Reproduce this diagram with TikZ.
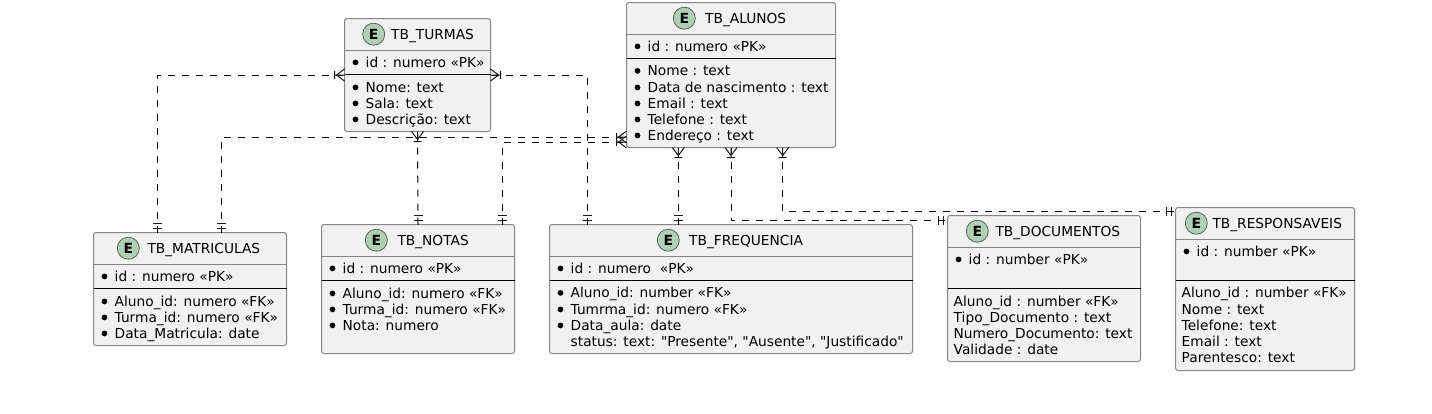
\documentclass[tikz,border=0pt]{standalone}
\usepackage{fontspec}
\newfontfamily\labelfont{DejaVu Sans}
\definecolor{boxfill}{HTML}{F1F1F1}
\definecolor{boxline}{HTML}{858585}
\definecolor{ink}{HTML}{181818}
\definecolor{iconfill}{HTML}{ADD1B2}
\tikzset{
  entityframe/.style={draw=boxline,fill=boxfill,line width=1pt,rounded corners=2.5pt,inner sep=0pt,outer sep=0pt,anchor=north west},
  headrule/.style={draw=boxline,line width=1pt},
  bodyrule/.style={draw=black,line width=1pt},
  iconmark/.style={circle,draw=ink!70,fill=iconfill,line width=.8pt,minimum size=22pt,inner sep=0pt,font=\labelfont\fontsize{14}{14}\selectfont\bfseries},
  labeltext/.style={anchor=base west,inner sep=0pt,font=\labelfont\fontsize{13.75}{14}\selectfont,text=black},
  relation/.style={draw=black,line width=1pt,dash pattern=on 7pt off 7pt},
  tipline/.style={draw=ink,line width=1pt},
  crowtip/.pic={\draw[tipline] (0,-6)--(8,0)--(0,6) (0,0)--(10,0) (10,-4)--(10,4);},
  onebars/.pic={\draw[tipline] (4.5,-4.5)--(4.5,4.5) (9.5,-4.5)--(9.5,4.5);}
}
% name, left, top, right, bottom, body rule y, icon x, title x, title
\newcommand\entitybox[9]{%
  \node[entityframe,minimum width={(#4-#2)*1pt},minimum height={(#5-#3)*1pt}] (#1) at (#2,#3) {};
  \draw[headrule] (#2,#3+32)--(#4,#3+32);
  \draw[bodyrule] (#2,#6)--(#4,#6);
  \node[iconmark] (#1-icon) at (#7,#3+15.7) {E};
  \node[labeltext] (#1-title) at (#8,#3+20.7) {#9};
}
% name, left, list of baseline/text
\newcommand\bulletrows[3]{%
  \foreach \rowy/\rowtxt [count=\i] in {#3}{
    \fill[black] (#2+11,\rowy-4.6) circle (2.9pt);
    \node[labeltext] (#1-b\i) at (#2+21,\rowy) {\rowtxt};
  }
}
\newcommand\plainrows[3]{%
  \foreach \rowy/\rowtxt [count=\i] in {#3}{
    \node[labeltext] (#1-p\i) at (#2+6,\rowy) {\rowtxt};
  }
}
\begin{document}
\begin{tikzpicture}[x=1pt,y=-1pt]
\useasboundingbox (0,0) rectangle (1432,413);
\fill[white] (0,0) rectangle (1432,413);

\entitybox{turmas}{344.5}{18.5}{490.5}{131.5}{74.5}{373.7}{391}{TB\_TURMAS}
\bulletrows{turmas}{344.5}{67/{id : numero «PK»},92/{Nome: text},108/{Sala: text},124/{Descrição: text}}

\entitybox{alunos}{626.5}{2.5}{835.5}{147.5}{58.5}{684.3}{705}{TB\_ALUNOS}
\bulletrows{alunos}{626.5}{51/{id : numero «PK»},75.5/{Nome : text},92/{Data de nascimento : text},108/{Email : text},124/{Telefone : text},140/{Endereço : text}}

\entitybox{matriculas}{93.5}{232.5}{286.5}{345.5}{288.5}{128.3}{147.3}{TB\_MATRICULAS}
\bulletrows{matriculas}{93.5}{281/{id : numero «PK»},306/{Aluno\_id: numero «FK»},322/{Turma\_id: numero «FK»},338/{Data\_Matricula: date}}

\entitybox{notas}{321.5}{224.5}{514.5}{353.5}{280.5}{376.3}{397.3}{TB\_NOTAS}
\bulletrows{notas}{321.5}{273/{id : numero «PK»},298/{Aluno\_id: numero «FK»},314/{Turma\_id: numero «FK»},330/{Nota: numero}}

\entitybox{frequencia}{549.5}{224.5}{912.5}{353.5}{280.5}{668.3}{689}{TB\_FREQUENCIA}
\bulletrows{frequencia}{549.5}{273/{id : numero\ \ «PK»},297.5/{Aluno\_id: number «FK»},314/{Tumrma\_id: numero «FK»},330/{Data\_aula: date}}
\node[labeltext] (frequencia-status) at (570.5,346) {status: text: "Presente", "Ausente", "Justificado"};

\entitybox{documentos}{947.5}{215.5}{1140.5}{361.5}{288.5}{977.3}{995.3}{TB\_DOCUMENTOS}
\bulletrows{documentos}{947.5}{264/{id : number «PK»}}
\plainrows{documentos}{947.5}{306/{Aluno\_id : number «FK»},322/{Tipo\_Documento : text},338/{Numero\_Documento: text},354/{Validade : date}}

\entitybox{responsaveis}{1175.5}{207.5}{1354.5}{370.5}{280.5}{1196.3}{1212.3}{TB\_RESPONSAVEIS}
\bulletrows{responsaveis}{1175.5}{256/{id : number «PK»}}
\plainrows{responsaveis}{1175.5}{297.5/{Aluno\_id : number «FK»},314/{Nome : text},330/{Telefone: text},346/{Email : text},362/{Parentesco: text}}

% connectors
\draw[relation] ([xshift=-32.5pt]matriculas.north) |- (turmas.west);
\pic[rotate=180] at (turmas.west) {crowtip};
\pic[rotate=90] at ([xshift=-32.5pt]matriculas.north) {onebars};

\draw[relation] ([xshift=31.5pt]matriculas.north) |- ([yshift=-62pt]alunos.west);
\pic[rotate=180] at ([yshift=-62pt]alunos.west) {crowtip};
\pic[rotate=90] at ([xshift=31.5pt]matriculas.north) {onebars};

\draw[relation] (notas.north) -- (turmas.south);
\pic[rotate=-90] at (turmas.south) {crowtip};
\pic[rotate=90] at (notas.north) {onebars};

\draw[relation] ([xshift=84.5pt]notas.north) |- ([yshift=-67pt]alunos.west);
\pic[rotate=180] at ([yshift=-67pt]alunos.west) {crowtip};
\pic[rotate=90] at ([xshift=84.5pt]notas.north) {onebars};

\draw[relation] ([xshift=-143.5pt]frequencia.north) |- (turmas.east);
\pic[rotate=0] at (turmas.east) {crowtip};
\pic[rotate=90] at ([xshift=-143.5pt]frequencia.north) {onebars};

\draw[relation] ([xshift=-52.7pt]frequencia.north) -- ([xshift=-52.7pt]alunos.south);
\pic[rotate=-90] at ([xshift=-52.7pt]alunos.south) {crowtip};
\pic[rotate=90] at ([xshift=-52.7pt]frequencia.north) {onebars};

\draw[relation] (alunos.south) |- ([yshift=68.2pt]documentos.west);
\pic[rotate=-90] at (alunos.south) {crowtip};
\pic[rotate=180] at ([yshift=68.2pt]documentos.west) {onebars};

\draw[relation] ([xshift=51.7pt]alunos.south) |- ([yshift=77.7pt]responsaveis.west);
\pic[rotate=-90] at ([xshift=51.7pt]alunos.south) {crowtip};
\pic[rotate=180] at ([yshift=77.7pt]responsaveis.west) {onebars};
\end{tikzpicture}
\end{document}
